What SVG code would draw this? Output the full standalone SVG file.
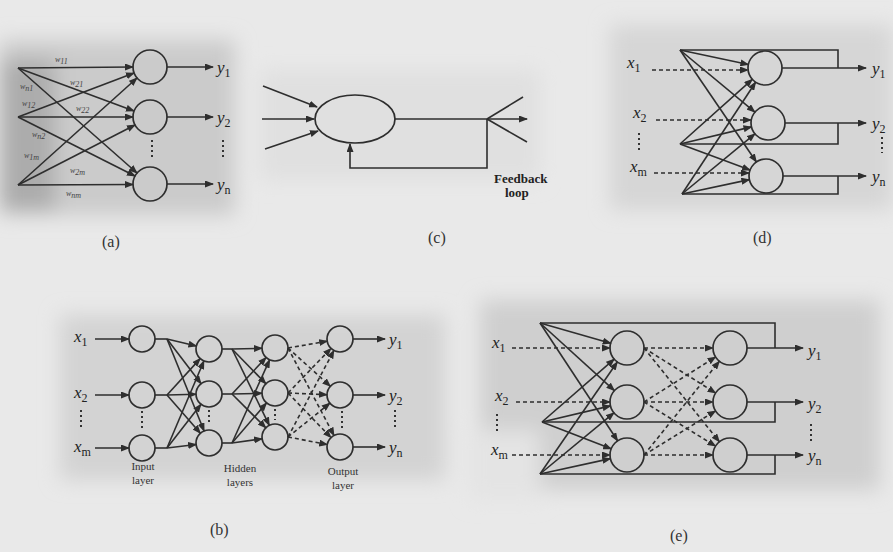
<svg xmlns="http://www.w3.org/2000/svg" width="893" height="552" viewBox="0 0 893 552">
<style>
.ln{stroke:#2e2e2e;stroke-width:1.6;fill:none}
.ar{marker-end:url(#ah)}
.ds{stroke-dasharray:4 3}
.dt{stroke:#333;stroke-width:2;stroke-dasharray:2 3;fill:none}
.nd{stroke:#2e2e2e;stroke-width:1.7;fill:none}
.v{font-family:"Liberation Serif",serif;font-style:italic;font-size:17px;fill:#222}
.sub{font-size:12px;font-style:normal}
.cap{font-family:"Liberation Serif",serif;font-size:16px;fill:#333}
.lbl{font-family:"Liberation Serif",serif;font-size:11px;fill:#333;text-anchor:middle}
.w{font-family:"Liberation Serif",serif;font-size:8px;fill:#444;font-style:italic}
.fb{font-family:"Liberation Serif",serif;font-size:13px;font-weight:bold;fill:#222}
</style>
<defs>
<marker id="ah" markerUnits="userSpaceOnUse" markerWidth="9" markerHeight="7" refX="8" refY="3.5" orient="auto">
<path d="M0,0 L9,3.5 L0,7 z" fill="#2e2e2e"/>
</marker>
<filter id="bl" x="-20%" y="-20%" width="140%" height="140%"><feGaussianBlur stdDeviation="10"/></filter>
</defs>
<rect width="893" height="552" fill="#e9e9e9"/>
<g id="bg" filter="url(#bl)">
<rect x="0" y="40" width="235" height="175" fill="#cbcbcb"/>
<rect x="0" y="60" width="55" height="150" fill="#acacac"/>
<rect x="610" y="25" width="283" height="185" fill="#d6d6d6"/>
<rect x="60" y="315" width="385" height="165" fill="#d3d3d3"/>
<rect x="480" y="300" width="400" height="190" fill="#cfcfcf"/>
<rect x="470" y="430" width="70" height="70" fill="#e4e4e4"/>
<rect x="260" y="70" width="280" height="110" fill="#e0e0e0"/>
</g>

<g id="panel-a">
<g id="a-connectors">
<line class="ln ar" x1="18" y1="68" x2="133" y2="67"/>
<line class="ln ar" x1="18" y1="68" x2="134" y2="111"/>
<line class="ln ar" x1="18" y1="68" x2="137" y2="173"/>
<line class="ln ar" x1="18" y1="117" x2="134" y2="73"/>
<line class="ln ar" x1="18" y1="117" x2="133" y2="117"/>
<line class="ln ar" x1="18" y1="117" x2="135" y2="176"/>
<line class="ln ar" x1="18" y1="185" x2="137" y2="78"/>
<line class="ln ar" x1="18" y1="185" x2="135" y2="125"/>
<line class="ln ar" x1="18" y1="185" x2="133" y2="184.5"/>
<line class="ln ar" x1="167" y1="67" x2="213" y2="67"/>
<line class="ln ar" x1="167" y1="117" x2="213" y2="117"/>
<line class="ln ar" x1="167" y1="184" x2="213" y2="184"/>
</g>
<g id="a-n1"><circle class="nd" cx="150" cy="67" r="17"/></g>
<g id="a-n2"><circle class="nd" cx="150" cy="117" r="17"/></g>
<g id="a-n3"><circle class="nd" cx="150" cy="184" r="17"/></g>
<line class="dt" x1="152" y1="140" x2="152" y2="158"/>
<line class="dt" x1="223" y1="140" x2="223" y2="158"/>
<text class="w" x="55" y="62">w<tspan dy="2">11</tspan></text>
<text class="w" x="70" y="85">w<tspan dy="2">21</tspan></text>
<text class="w" x="20" y="89">w<tspan dy="2">n1</tspan></text>
<text class="w" x="22" y="106">w<tspan dy="2">12</tspan></text>
<text class="w" x="76" y="111">w<tspan dy="2">22</tspan></text>
<text class="w" x="32" y="137">w<tspan dy="2">n2</tspan></text>
<text class="w" x="24" y="158">w<tspan dy="2">1m</tspan></text>
<text class="w" x="70" y="173">w<tspan dy="2">2m</tspan></text>
<text class="w" x="66" y="196">w<tspan dy="2">nm</tspan></text>
<text class="v" x="217" y="73">y<tspan class="sub" dy="4">1</tspan></text>
<text class="v" x="217" y="123">y<tspan class="sub" dy="4">2</tspan></text>
<text class="v" x="217" y="190">y<tspan class="sub" dy="4">n</tspan></text>
<text class="cap" x="102" y="247">(a)</text>
</g>

<g id="panel-c">
<g id="c-connectors">
<line class="ln ar" x1="263" y1="86" x2="317" y2="107"/>
<line class="ln ar" x1="262" y1="119" x2="314" y2="119"/>
<line class="ln ar" x1="265" y1="149" x2="318" y2="131"/>
<line class="ln ar" x1="395" y1="119" x2="527" y2="119"/>
<line class="ln" x1="487" y1="119" x2="523" y2="97"/>
<line class="ln" x1="487" y1="119" x2="527" y2="142"/>
<polyline class="ln ar" points="487,119 487,168 350,168 350,144"/>
</g>
<g id="c-node"><ellipse class="nd" cx="355" cy="119" rx="40" ry="24"/></g>
<text class="fb" x="494" y="183">Feedback</text>
<text class="fb" x="505" y="197" font-weight="normal">loop</text>
<text class="cap" x="428" y="243">(c)</text>
</g>

<g id="panel-d">
<g id="d-connectors">
<line class="ln ar" x1="680" y1="50" x2="748.4" y2="64.5"/>
<line class="ln ar" x1="680" y1="50" x2="754.9" y2="112.1"/>
<line class="ln ar" x1="680" y1="50" x2="756.4" y2="162"/>
<line class="ln ar" x1="680" y1="144" x2="752.3" y2="79.3"/>
<line class="ln ar" x1="680" y1="144" x2="751.5" y2="126.9"/>
<line class="ln ar" x1="680" y1="144" x2="750.1" y2="170.1"/>
<line class="ln ar" x1="682" y1="194" x2="755.6" y2="82.2"/>
<line class="ln ar" x1="682" y1="194" x2="754.9" y2="133.8"/>
<line class="ln ar" x1="682" y1="194" x2="749.4" y2="179.6"/>
<polyline class="ln" points="680,50 838,50 838,68"/>
<polyline class="ln" points="680,144 838,144 838,123"/>
<polyline class="ln" points="682,194 838,194 838,176"/>
<line class="ln ar" x1="782" y1="68" x2="866" y2="68"/>
<line class="ln ar" x1="785" y1="123" x2="866" y2="123"/>
<line class="ln ar" x1="783" y1="176" x2="866" y2="176"/>
<line class="ln ar ds" x1="652" y1="70" x2="748" y2="70"/>
<line class="ln ar ds" x1="656" y1="120" x2="751" y2="120"/>
<line class="ln ar ds" x1="654" y1="173" x2="749" y2="173"/>
</g>
<g id="d-n1"><circle class="nd" cx="765" cy="68" r="17"/></g>
<g id="d-n2"><circle class="nd" cx="768" cy="123" r="17"/></g>
<g id="d-n3"><circle class="nd" cx="766" cy="176" r="17"/></g>
<text class="v" x="627" y="68">x<tspan class="sub" dy="4">1</tspan></text>
<text class="v" x="633" y="118">x<tspan class="sub" dy="4">2</tspan></text>
<text class="v" x="630" y="172">x<tspan class="sub" dy="4">m</tspan></text>
<line class="dt" x1="639" y1="133" x2="639" y2="152"/>
<text class="v" x="872" y="74">y<tspan class="sub" dy="4">1</tspan></text>
<text class="v" x="872" y="129">y<tspan class="sub" dy="4">2</tspan></text>
<text class="v" x="872" y="182">y<tspan class="sub" dy="4">n</tspan></text>
<line class="dt" x1="882" y1="137" x2="882" y2="153"/>
<text class="cap" x="753" y="243">(d)</text>
</g>

<g id="panel-b">
<g id="b-connectors">
<line class="ln ar" x1="95" y1="339" x2="129" y2="339"/>
<line class="ln ar" x1="95" y1="395" x2="129" y2="395"/>
<line class="ln ar" x1="95" y1="448" x2="129" y2="448"/>
<line class="ln" x1="155" y1="339" x2="167" y2="339"/>
<line class="ln" x1="155" y1="395" x2="167" y2="395"/>
<line class="ln" x1="155" y1="448" x2="167" y2="448"/>
<line class="ln ar" x1="167" y1="339" x2="196.4" y2="346"/>
<line class="ln ar" x1="167" y1="339" x2="201.1" y2="383.7"/>
<line class="ln ar" x1="167" y1="339" x2="204.1" y2="431"/>
<line class="ln ar" x1="167" y1="395" x2="200.2" y2="358.6"/>
<line class="ln ar" x1="167" y1="395" x2="196" y2="394.3"/>
<line class="ln ar" x1="167" y1="395" x2="200.4" y2="433.2"/>
<line class="ln ar" x1="167" y1="448" x2="203.9" y2="361"/>
<line class="ln ar" x1="167" y1="448" x2="201" y2="404.3"/>
<line class="ln ar" x1="167" y1="448" x2="196.1" y2="444.5"/>
<line class="ln" x1="222" y1="349" x2="232" y2="349"/>
<line class="ln" x1="222" y1="394" x2="232" y2="394"/>
<line class="ln" x1="222" y1="443" x2="232" y2="443"/>
<line class="ln ar" x1="232" y1="349" x2="262" y2="348.3"/>
<line class="ln ar" x1="232" y1="349" x2="265.9" y2="383.7"/>
<line class="ln ar" x1="232" y1="349" x2="269.3" y2="425.3"/>
<line class="ln ar" x1="232" y1="394" x2="266.1" y2="357.5"/>
<line class="ln ar" x1="232" y1="394" x2="262" y2="393.3"/>
<line class="ln ar" x1="232" y1="394" x2="265.8" y2="427.8"/>
<line class="ln ar" x1="232" y1="443" x2="269.6" y2="359.8"/>
<line class="ln ar" x1="232" y1="443" x2="266.5" y2="402.9"/>
<line class="ln ar" x1="232" y1="443" x2="262.1" y2="438.8"/>
<line class="ln ar ds" x1="288" y1="348" x2="327.2" y2="341.2"/>
<line class="ln ar ds" x1="288" y1="348" x2="330.4" y2="386.3"/>
<line class="ln ar ds" x1="288" y1="348" x2="334" y2="435.5"/>
<line class="ln ar ds" x1="288" y1="393" x2="331" y2="348.4"/>
<line class="ln ar ds" x1="288" y1="393" x2="327" y2="394.7"/>
<line class="ln ar ds" x1="288" y1="393" x2="331" y2="437.6"/>
<line class="ln ar ds" x1="288" y1="437" x2="333.9" y2="350.5"/>
<line class="ln ar ds" x1="288" y1="437" x2="329.9" y2="403.2"/>
<line class="ln ar ds" x1="288" y1="437" x2="327.2" y2="444.5"/>
<line class="ln ar" x1="353" y1="339" x2="385" y2="339"/>
<line class="ln ar" x1="353" y1="395" x2="385" y2="395"/>
<line class="ln ar" x1="353" y1="447" x2="385" y2="447"/>
</g>
<g id="b-in1"><circle class="nd" cx="142" cy="339" r="13"/></g>
<g id="b-in2"><circle class="nd" cx="142" cy="395" r="13"/></g>
<g id="b-in3"><circle class="nd" cx="142" cy="448" r="13"/></g>
<g id="b-h1a"><circle class="nd" cx="209" cy="349" r="13"/></g>
<g id="b-h1b"><circle class="nd" cx="209" cy="394" r="13"/></g>
<g id="b-h1c"><circle class="nd" cx="209" cy="443" r="13"/></g>
<g id="b-h2a"><circle class="nd" cx="275" cy="348" r="13"/></g>
<g id="b-h2b"><circle class="nd" cx="275" cy="393" r="13"/></g>
<g id="b-h2c"><circle class="nd" cx="275" cy="437" r="13"/></g>
<g id="b-o1"><circle class="nd" cx="340" cy="339" r="13"/></g>
<g id="b-o2"><circle class="nd" cx="340" cy="395" r="13"/></g>
<g id="b-o3"><circle class="nd" cx="340" cy="447" r="13"/></g>
<line class="dt" x1="142" y1="411" x2="142" y2="428"/>
<line class="dt" x1="209" y1="410" x2="209" y2="425"/>
<line class="dt" x1="275" y1="409" x2="275" y2="420"/>
<line class="dt" x1="342" y1="411" x2="342" y2="428"/>
<line class="dt" x1="81" y1="410" x2="81" y2="427"/>
<line class="dt" x1="395" y1="410" x2="395" y2="427"/>
<text class="v" x="74" y="342">x<tspan class="sub" dy="4">1</tspan></text>
<text class="v" x="74" y="398">x<tspan class="sub" dy="4">2</tspan></text>
<text class="v" x="74" y="452">x<tspan class="sub" dy="4">m</tspan></text>
<text class="v" x="389" y="345">y<tspan class="sub" dy="4">1</tspan></text>
<text class="v" x="389" y="401">y<tspan class="sub" dy="4">2</tspan></text>
<text class="v" x="389" y="453">y<tspan class="sub" dy="4">n</tspan></text>
<text class="lbl" x="143" y="470">Input</text>
<text class="lbl" x="143" y="484">layer</text>
<text class="lbl" x="240" y="472">Hidden</text>
<text class="lbl" x="240" y="486">layers</text>
<text class="lbl" x="343" y="475">Output</text>
<text class="lbl" x="343" y="489">layer</text>
<text class="cap" x="210" y="535">(b)</text>
</g>

<g id="panel-e">
<g id="e-connectors">
<line class="ln ar" x1="540" y1="323" x2="610.7" y2="343.3"/>
<line class="ln ar" x1="540" y1="323" x2="614.4" y2="390.6"/>
<line class="ln ar" x1="540" y1="323" x2="617.6" y2="440.8"/>
<line class="ln ar" x1="542" y1="422" x2="614.2" y2="359.2"/>
<line class="ln ar" x1="542" y1="422" x2="610.5" y2="405.9"/>
<line class="ln ar" x1="542" y1="422" x2="611.2" y2="448.8"/>
<line class="ln ar" x1="540" y1="474" x2="617.3" y2="362"/>
<line class="ln ar" x1="540" y1="474" x2="613.9" y2="412.8"/>
<line class="ln ar" x1="540" y1="474" x2="610.4" y2="458.6"/>
<polyline class="ln" points="540,323 775,323 775,348"/>
<polyline class="ln" points="542,422 775,422 775,402"/>
<polyline class="ln" points="540,474 775,474 775,455"/>
<line class="ln ar ds" x1="512" y1="348" x2="610" y2="348"/>
<line class="ln ar ds" x1="516" y1="402" x2="610" y2="402"/>
<line class="ln ar ds" x1="512" y1="455" x2="610" y2="455"/>
<line class="ln ar ds" x1="644" y1="348" x2="713" y2="348"/>
<line class="ln ar ds" x1="644" y1="348" x2="715.6" y2="393"/>
<line class="ln ar ds" x1="644" y1="348" x2="719.4" y2="441.8"/>
<line class="ln ar ds" x1="644" y1="402" x2="715.6" y2="357"/>
<line class="ln ar ds" x1="644" y1="402" x2="713" y2="402"/>
<line class="ln ar ds" x1="644" y1="402" x2="715.5" y2="446.1"/>
<line class="ln ar ds" x1="644" y1="455" x2="719.4" y2="361.2"/>
<line class="ln ar ds" x1="644" y1="455" x2="715.5" y2="410.9"/>
<line class="ln ar ds" x1="644" y1="455" x2="713" y2="455"/>
<line class="ln ar" x1="747" y1="348" x2="803" y2="348"/>
<line class="ln ar" x1="747" y1="402" x2="803" y2="402"/>
<line class="ln ar" x1="747" y1="455" x2="803" y2="455"/>
</g>
<g id="e-n1"><circle class="nd" cx="627" cy="348" r="17"/></g>
<g id="e-n2"><circle class="nd" cx="627" cy="402" r="17"/></g>
<g id="e-n3"><circle class="nd" cx="627" cy="455" r="17"/></g>
<g id="e-m1"><circle class="nd" cx="730" cy="348" r="17"/></g>
<g id="e-m2"><circle class="nd" cx="730" cy="402" r="17"/></g>
<g id="e-m3"><circle class="nd" cx="730" cy="455" r="17"/></g>
<text class="v" x="492" y="348">x<tspan class="sub" dy="4">1</tspan></text>
<text class="v" x="495" y="401">x<tspan class="sub" dy="4">2</tspan></text>
<text class="v" x="491" y="455">x<tspan class="sub" dy="4">m</tspan></text>
<line class="dt" x1="497" y1="414" x2="497" y2="434"/>
<text class="v" x="808" y="356">y<tspan class="sub" dy="4">1</tspan></text>
<text class="v" x="808" y="409">y<tspan class="sub" dy="4">2</tspan></text>
<text class="v" x="808" y="461">y<tspan class="sub" dy="4">n</tspan></text>
<line class="dt" x1="811" y1="424" x2="811" y2="442"/>
<text class="cap" x="670" y="541">(e)</text>
</g>
</svg>
